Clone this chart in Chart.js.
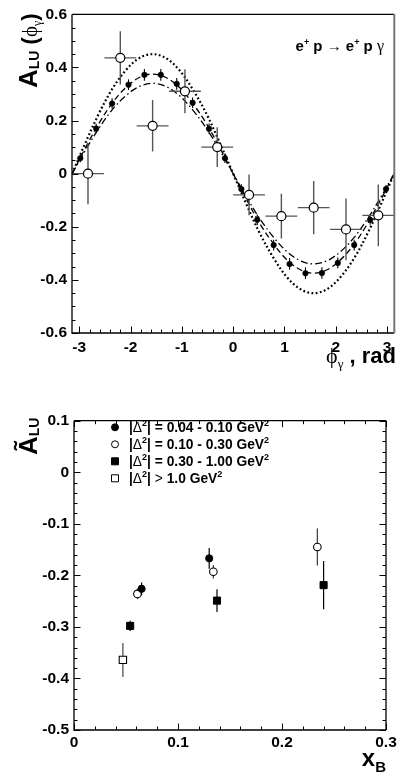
<!DOCTYPE html>
<html><head><meta charset="utf-8">
<script src="https://cdn.jsdelivr.net/npm/chart.js"></script>
<style>
body{margin:0;background:#fff;width:400px;height:775px;overflow:hidden}
canvas{position:absolute;left:0}
#c1{top:0}
#c2{top:380px}
</style></head><body>
<canvas id="c1" width="400" height="380"></canvas>
<canvas id="c2" width="400" height="395"></canvas>
<script>
// ---- top panel: A_LU vs phi ----
const fineX = [-2.98,-2.67,-2.36,-2.04,-1.73,-1.41,-1.10,-0.79,-0.47,-0.16,0.16,0.47,0.79,1.10,1.41,1.73,2.04,2.36,2.67,2.98]
const fineY = [0.058,0.170,0.264,0.335,0.372,0.372,0.338,0.267,0.169,0.058,-0.058,-0.174,-0.269,-0.340,-0.375,-0.374,-0.336,-0.269,-0.174,-0.058]
const fineErr = [0.015,0.018,0.02,0.02,0.022,0.022,0.022,0.02,0.02,0.018,0.018,0.02,0.02,0.022,0.022,0.022,0.02,0.02,0.018,0.015]
const coarseX = [-2.83,-2.20,-1.57,-0.94,-0.31,0.31,0.94,1.57,2.20,2.83]
const coarseY = [0.0,0.436,0.18,0.31,0.10,-0.08,-0.16,-0.128,-0.21,-0.157]
const coarseErr = [0.115,0.10,0.097,0.083,0.075,0.077,0.084,0.10,0.116,0.116]
const coarseXErr = [0.31,0.31,0.31,0.31,0.31,0.31,0.31,0.31,0.31,0.31]
const curveX = [-3.14,-2.88,-2.62,-2.36,-2.09,-1.83,-1.57,-1.31,-1.05,-0.79,-0.52,-0.26,0,0.26,0.52,0.79,1.05,1.31,1.57,1.83,2.09,2.36,2.62,2.88,3.14]
const dottedY = [0,0.116,0.225,0.318,0.390,0.435,0.45,0.435,0.390,0.318,0.225,0.116,0,-0.116,-0.225,-0.318,-0.390,-0.435,-0.45,-0.435,-0.390,-0.318,-0.225,-0.116,0]
const dashedY = [0,0.097,0.188,0.265,0.325,0.362,0.375,0.362,0.325,0.265,0.188,0.097,0,-0.097,-0.188,-0.265,-0.325,-0.362,-0.375,-0.362,-0.325,-0.265,-0.188,-0.097,0]
const dashDotY = [0,0.088,0.17,0.240,0.294,0.328,0.34,0.328,0.294,0.240,0.17,0.088,0,-0.088,-0.17,-0.240,-0.294,-0.328,-0.34,-0.328,-0.294,-0.240,-0.17,-0.088,0]
const topXTicks = [-3,-2,-1,0,1,2,3]
const topXLabels = ['-3','-2','-1','0','1','2','3']
const topYTicks = [0.6,0.4,0.2,0,-0.2,-0.4,-0.6]
const topYLabels = ['0.6','0.4','0.2','0','-0.2','-0.4','-0.6']

// ---- bottom panel: A_LU tilde vs xB ----
const binLabels = ['0.04 - 0.10', '0.10 - 0.30', '0.30 - 1.00', '1.0']
const xB1 = [0.065,0.13], y1 = [-0.226,-0.167], e1 = [0.012,0.02]
const xB2 = [0.061,0.134,0.234], y2 = [-0.236,-0.193,-0.145], e2 = [0.01,0.013,0.036]
const xB3 = [0.054,0.1375,0.240], y3 = [-0.298,-0.249,-0.219], e3 = [0.01,0.022,0.047]
const xB4 = [0.047], y4 = [-0.364], e4 = [0.033]
const botXTicks = [0,0.1,0.2,0.3]
const botXLabels = ['0','0.1','0.2','0.3']
const botYTicks = [0.1,0,-0.1,-0.2,-0.3,-0.4,-0.5]
const botYLabels = ['0.1','0','-0.1','-0.2','-0.3','-0.4','-0.5']

const SANS = "'Liberation Sans', Arial, Helvetica, sans-serif"
const SERIF = "'Liberation Serif', 'Times New Roman', serif"

function pts(xs, ys){ return xs.map((x,i)=>({x:x, y:ys[i]})) }

// draws a row of text pieces, returns the width
function drawRich(ctx, parts, x, y, measureOnly){
  let w = 0
  parts.forEach(p=>{
    ctx.font = p.f
    if(!measureOnly) ctx.fillText(p.t, x + w, y + (p.dy||0))
    w += ctx.measureText(p.t).width
  })
  return w
}

const errorBars = {
  id: 'errorBars',
  beforeDatasetDraw(chart, args){
    const ds = chart.data.datasets[args.index]
    if(!ds.errY) return
    const ctx = chart.ctx, xs = chart.scales.x, ys = chart.scales.y
    ctx.save()
    ctx.strokeStyle = ds.errColor || '#000'
    ctx.lineWidth = ds.errWidth || 1.2
    ds.data.forEach((p,i)=>{
      const px = xs.getPixelForValue(p.x)
      ctx.beginPath()
      ctx.moveTo(px, ys.getPixelForValue(p.y + ds.errY[i]))
      ctx.lineTo(px, ys.getPixelForValue(p.y - ds.errY[i]))
      if(ds.errX){
        const py = ys.getPixelForValue(p.y)
        ctx.moveTo(xs.getPixelForValue(p.x - ds.errX[i]), py)
        ctx.lineTo(xs.getPixelForValue(p.x + ds.errX[i]), py)
      }
      ctx.stroke()
    })
    ctx.restore()
  }
}

// frame + inward ticks, ROOT style
const frame = {
  id: 'frame',
  afterDraw(chart, args, o){
    const ctx = chart.ctx, a = chart.chartArea, xs = chart.scales.x, ys = chart.scales.y
    ctx.save()
    ctx.lineWidth = 1.3
    ctx.strokeStyle = '#000'
    ctx.beginPath()
    ctx.moveTo(a.left, a.top); ctx.lineTo(a.left, a.bottom); ctx.lineTo(a.right, a.bottom)
    ctx.moveTo(a.left, a.top); ctx.lineTo(a.right, a.top)
    ctx.stroke()
    ctx.strokeStyle = o.rightColor || '#000'
    ctx.lineWidth = o.rightWidth || 1.3
    ctx.beginPath(); ctx.moveTo(a.right, a.top); ctx.lineTo(a.right, a.bottom); ctx.stroke()
    ctx.strokeStyle = '#000'
    ctx.lineWidth = 1
    ctx.beginPath()
    const n = Math.round((o.xMax - o.xMin) / o.xMinor)
    for(let i=0;i<=n;i++){
      const v = o.xMin + i*o.xMinor
      if(v < xs.min - 1e-9 || v > xs.max + 1e-9) continue
      const major = Math.abs(v/o.xMajor - Math.round(v/o.xMajor)) < 1e-6
      const len = major ? 6.5 : 3.5
      const px = Math.round(xs.getPixelForValue(v)) + 0.5
      ctx.moveTo(px, a.bottom); ctx.lineTo(px, a.bottom - len)
      if(o.mirror){ ctx.moveTo(px, a.top); ctx.lineTo(px, a.top + len) }
    }
    const m = Math.round((o.yMax - o.yMin) / o.yMinor)
    for(let i=0;i<=m;i++){
      const v = o.yMin + i*o.yMinor
      const major = Math.abs(v/o.yMajor - Math.round(v/o.yMajor)) < 1e-6
      const len = major ? 6.5 : 3.5
      const py = Math.round(ys.getPixelForValue(v)) + 0.5
      ctx.moveTo(a.left, py); ctx.lineTo(a.left + len, py)
      if(o.mirror){ ctx.moveTo(a.right, py); ctx.lineTo(a.right - len, py) }
    }
    ctx.stroke()
    ctx.restore()
  }
}

const titles = {
  id: 'titles',
  afterDraw(chart, args, o){
    const ctx = chart.ctx
    ctx.save()
    ctx.fillStyle = '#000'
    ctx.textBaseline = 'alphabetic'
    ;(o.items || []).forEach(it=>{
      ctx.save()
      ctx.translate(it.x, it.y)
      if(it.rot) ctx.rotate(it.rot)
      let x0 = 0
      if(it.align === 'right') x0 = -drawRich(ctx, it.parts, 0, 0, true)
      drawRich(ctx, it.parts, x0, 0)
      ctx.restore()
    })
    if(o.legend){
      o.legend.forEach((row,i)=>{
        const y = o.legendY + i*o.legendStep
        ctx.fillStyle = row.fill; ctx.strokeStyle = '#000'; ctx.lineWidth = 1
        ctx.beginPath()
        if(row.style === 'circle') ctx.arc(o.legendX, y, row.r, 0, Math.PI*2)
        else ctx.rect(o.legendX - row.r, y - row.r, row.r*2, row.r*2)
        ctx.fill(); ctx.stroke()
        ctx.fillStyle = '#000'
        drawRich(ctx, row.parts, o.legendX + 14, y + 5)
      })
    }
    ctx.restore()
  }
}

function fixAxis(w, h){
  return function(scale){ if(w !== undefined) scale.width = w; if(h !== undefined) scale.height = h }
}
function setTicks(vals){ return function(scale){ scale.ticks = vals.map(v=>({value:v})) } }

const tickFont = {family: SANS, size: 15.5, weight: 'bold'}

// ---- top chart ----
new Chart(document.getElementById('c1'), {
  type: 'scatter',
  data: { datasets: [
    { data: pts(coarseX, coarseY), errY: coarseErr, errX: coarseXErr, errColor: '#555', errWidth: 1.4,
      pointStyle: 'circle', pointRadius: 4.5, backgroundColor: '#fff', borderColor: '#000', borderWidth: 1.2, order: 0 },
    { data: pts(fineX, fineY), errY: fineErr, errColor: '#000', errWidth: 1.1,
      pointStyle: 'circle', pointRadius: 2.8, backgroundColor: '#000', borderColor: '#000', borderWidth: 0.5, order: 1 },
    { data: pts(curveX, dottedY), showLine: true, pointRadius: 0, borderColor: '#000', borderWidth: 2.2,
      borderDash: [1.8, 2.4], tension: 0.35, order: 5 },
    { data: pts(curveX, dashedY), showLine: true, pointRadius: 0, borderColor: '#000', borderWidth: 1.3,
      borderDash: [6, 3.5], tension: 0.35, order: 6 },
    { data: pts(curveX, dashDotY), showLine: true, pointRadius: 0, borderColor: '#000', borderWidth: 1.3,
      borderDash: [7, 3, 1.5, 3], tension: 0.35, order: 7 }
  ]},
  options: {
    responsive: false, animation: false,
    layout: { padding: {left: 0, right: 4, top: 10, bottom: 0} },
    plugins: {
      legend: {display: false}, tooltip: {enabled: false},
      frame: { xMin: -3.2, xMax: 3.2, xMinor: 0.2, xMajor: 1, yMin: -0.6, yMax: 0.6, yMinor: 0.05, yMajor: 0.2,
               mirror: false, rightColor: '#777', rightWidth: 2 },
      titles: { items: [
        { x: 37, y: 88, rot: -Math.PI/2, parts: [
          {t:'A', f:'bold 26px '+SANS}, {t:'LU', f:'bold 14px '+SANS, dy: 2}, {t:' (', f:'bold 22px '+SANS},
          {t:'ϕ', f:'21px '+SERIF}, {t:'γ', f:'12px '+SERIF, dy: 4}, {t:')', f:'bold 22px '+SANS}] },
        { x: 396, y: 363, align: 'right', parts: [
          {t:'ϕ', f:'22px '+SERIF}, {t:'γ', f:'13px '+SERIF, dy: 5}, {t:' , rad', f:'bold 22px '+SANS}] },
        { x: 384, y: 51, align: 'right', parts: [
          {t:'e', f:'bold 15px '+SANS}, {t:'+', f:'bold 9px '+SANS, dy: -6}, {t:' p ', f:'bold 15px '+SANS},
          {t:'→', f:'15px '+SANS}, {t:' e', f:'bold 15px '+SANS}, {t:'+', f:'bold 9px '+SANS, dy: -6},
          {t:' p ', f:'bold 15px '+SANS}, {t:'γ', f:'16px '+SERIF}] }
      ]}
    },
    scales: {
      x: { type: 'linear', min: -Math.PI, max: Math.PI,
        afterBuildTicks: setTicks(topXTicks), afterFit: fixAxis(undefined, 47),
        grid: {display: false, drawTicks: false}, border: {display: false},
        ticks: { font: tickFont, color: '#000', padding: 5, maxRotation: 0, autoSkip: false,
                 callback: (v, i) => topXLabels[i] } },
      y: { type: 'linear', min: -0.6, max: 0.6,
        afterBuildTicks: setTicks(topYTicks), afterFit: fixAxis(72),
        grid: {display: false, drawTicks: false}, border: {display: false},
        ticks: { font: tickFont, color: '#000', padding: 5, autoSkip: false,
                 callback: (v, i) => topYLabels[i] } }
    }
  },
  plugins: [errorBars, frame, titles]
})

// ---- bottom chart ----
const legendRows = binLabels.map((b,i)=>({
  style: i < 2 ? 'circle' : 'rect', r: 3.5, fill: (i % 2 === 0) ? '#000' : '#fff',
  parts: [{t:'|', f:'bold 13.8px '+SANS}, {t:'Δ', f:'13.8px '+SANS}, {t:'2', f:'bold 9px '+SANS, dy: -6},
          {t: i < 3 ? '| = ' + b + ' GeV' : '| ', f:'bold 13.8px '+SANS}].concat(
          i < 3 ? [] : [{t:'>', f:'13.8px '+SANS}, {t:' ' + b + ' GeV', f:'bold 13.8px '+SANS}]).concat(
          [{t:'2', f:'bold 9px '+SANS, dy: -6}])
}))

new Chart(document.getElementById('c2'), {
  type: 'scatter',
  data: { datasets: [
    { data: pts(xB1, y1), errY: e1, errColor: '#000', errWidth: 1.2,
      pointStyle: 'circle', pointRadius: 3.6, backgroundColor: '#000', borderColor: '#000', borderWidth: 1 },
    { data: pts(xB2, y2), errY: e2, errColor: '#444', errWidth: 1.3,
      pointStyle: 'circle', pointRadius: 3.8, backgroundColor: '#fff', borderColor: '#000', borderWidth: 1.1 },
    { data: pts(xB3, y3), errY: e3, errColor: '#000', errWidth: 1.2,
      pointStyle: 'rect', pointRadius: 5, backgroundColor: '#000', borderColor: '#000', borderWidth: 1 },
    { data: pts(xB4, y4), errY: e4, errColor: '#555', errWidth: 1.3,
      pointStyle: 'rect', pointRadius: 5.2, backgroundColor: '#fff', borderColor: '#000', borderWidth: 1.1 }
  ]},
  options: {
    responsive: false, animation: false,
    layout: { padding: {left: 0, right: 14, top: 40.7, bottom: 0} },
    plugins: {
      legend: {display: false}, tooltip: {enabled: false},
      frame: { xMin: 0, xMax: 0.3, xMinor: 0.02, xMajor: 0.1, yMin: -0.5, yMax: 0.1, yMinor: 0.02, yMajor: 0.1, mirror: true },
      titles: { items: [
        { x: 37, y: 75, rot: -Math.PI/2, parts: [
          {t:'Ã', f:'bold 26px '+SANS}, {t:'LU', f:'bold 14px '+SANS, dy: 2}] },
        { x: 386, y: 386, align: 'right', parts: [
          {t:'x', f:'bold 24px '+SANS}, {t:'B', f:'bold 15px '+SANS, dy: 6}] }
      ],
      legend: legendRows, legendX: 115, legendY: 47.3, legendStep: 17 }
    },
    scales: {
      x: { type: 'linear', min: 0, max: 0.3,
        afterBuildTicks: setTicks(botXTicks), afterFit: fixAxis(undefined, 45),
        grid: {display: false, drawTicks: false}, border: {display: false},
        ticks: { font: tickFont, color: '#000', padding: 3, maxRotation: 0, autoSkip: false,
                 callback: (v, i) => botXLabels[i] } },
      y: { type: 'linear', min: -0.5, max: 0.1,
        afterBuildTicks: setTicks(botYTicks), afterFit: fixAxis(74),
        grid: {display: false, drawTicks: false}, border: {display: false},
        ticks: { font: tickFont, color: '#000', padding: 5, autoSkip: false,
                 callback: (v, i) => botYLabels[i] } }
    }
  },
  plugins: [errorBars, frame, titles]
})
</script>
</body></html>
